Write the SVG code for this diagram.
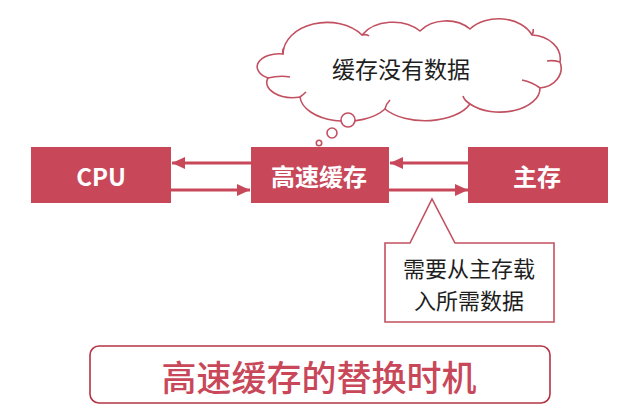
<svg xmlns="http://www.w3.org/2000/svg" width="640" height="413" viewBox="0 0 640 413">
<defs>
<style>
.node{fill:#c8485a;}
.ntext{fill:#ffffff;font-family:"Noto Sans CJK SC","Liberation Sans",sans-serif;font-weight:bold;font-size:24px;text-anchor:middle;dominant-baseline:central;}
.conn{stroke:#c8485a;stroke-width:3;fill:none;}
.outline{fill:#ffffff;stroke:#c25060;stroke-width:1.6;}
.thin{fill:none;stroke:#c25060;stroke-width:1.6;}
.btext{fill:#1e1e1e;font-family:"Noto Sans CJK SC","Liberation Sans",sans-serif;font-size:23px;text-anchor:middle;dominant-baseline:central;}
.ctext{fill:#1e1e1e;font-family:"Noto Sans CJK SC","Liberation Sans",sans-serif;font-size:22px;text-anchor:middle;dominant-baseline:central;}
.title{fill:#c8485a;font-family:"Noto Sans CJK SC","Liberation Sans",sans-serif;font-size:35px;font-weight:500;text-anchor:middle;dominant-baseline:central;}
</style>
<marker id="ah" markerUnits="userSpaceOnUse" markerWidth="14" markerHeight="12" refX="13" refY="6" orient="auto">
<path d="M0,0 L13,6 L0,12 Z" fill="#c8485a"/>
</marker>
</defs>

<g id="cloud">
<path class="outline" d="M283,54 A44,32 0 0 1 362,35 A36,26 0 0 1 420,31 A32,24 0 0 1 470,29 A36,26 0 0 1 532,35 A30,24 0 0 1 560,62 A24,20 0 0 1 540,88 A40,24 0 0 1 470,104 A48,26 0 0 1 385,109 A46,26 0 0 1 300,97 A26,15 0 0 1 268,78 A22,13 0 0 1 283,54 Z"/>
<path class="thin" d="M283,54 Q282,50 284,48"/>
<path class="thin" d="M268,78 Q280,75 290,77"/>
<path class="thin" d="M300,97 Q304,94 306,92"/>
<path class="thin" d="M385,109 Q386,104 390,100"/>
<path class="thin" d="M470,104 Q464,100 463,96"/>
<path class="thin" d="M540,88 Q532,82 522,80"/>
<path class="thin" d="M560,62 Q553,60 547,61"/>
<path class="thin" d="M532,35 Q534,31 533,29"/>
<path class="thin" d="M362,35 Q367,34 369,36"/>
<text class="btext" x="401" y="68">缓存没有数据</text>
<circle class="outline" cx="348" cy="120" r="7"/>
<circle class="outline" cx="332" cy="133" r="5"/>
<circle class="outline" cx="319" cy="143" r="2.7"/>
</g>

<g id="cpu">
<rect class="node" x="31" y="147" width="140" height="56"/>
<text class="ntext" x="101" y="175">CPU</text>
</g>
<g id="cache">
<rect class="node" x="251" y="147" width="138" height="56"/>
<text class="ntext" x="319" y="175">高速缓存</text>
</g>
<g id="memory">
<rect class="node" x="468" y="147" width="140" height="56"/>
<text class="ntext" x="537" y="175">主存</text>
</g>

<g id="connectors">
<line class="conn" x1="251" y1="163" x2="172" y2="163" marker-end="url(#ah)"/>
<line class="conn" x1="171" y1="190" x2="250" y2="190" marker-end="url(#ah)"/>
<line class="conn" x1="468" y1="163" x2="390" y2="163" marker-end="url(#ah)"/>
<line class="conn" x1="389" y1="190" x2="468" y2="190" marker-end="url(#ah)"/>
</g>

<g id="callout">
<path class="outline" d="M385,243 L410,243 L432,199 L455,243 L554,243 L554,322 L385,322 Z"/>
<text class="ctext"><tspan x="469" y="267">需要从主存载</tspan><tspan x="469" y="299">入所需数据</tspan></text>
</g>

<g id="title">
<rect x="90" y="346" width="460" height="57" rx="9" ry="9" fill="#ffffff" stroke="#b23444" stroke-width="1.6"/>
<text class="title" x="319" y="375">高速缓存的替换时机</text>
</g>
</svg>
